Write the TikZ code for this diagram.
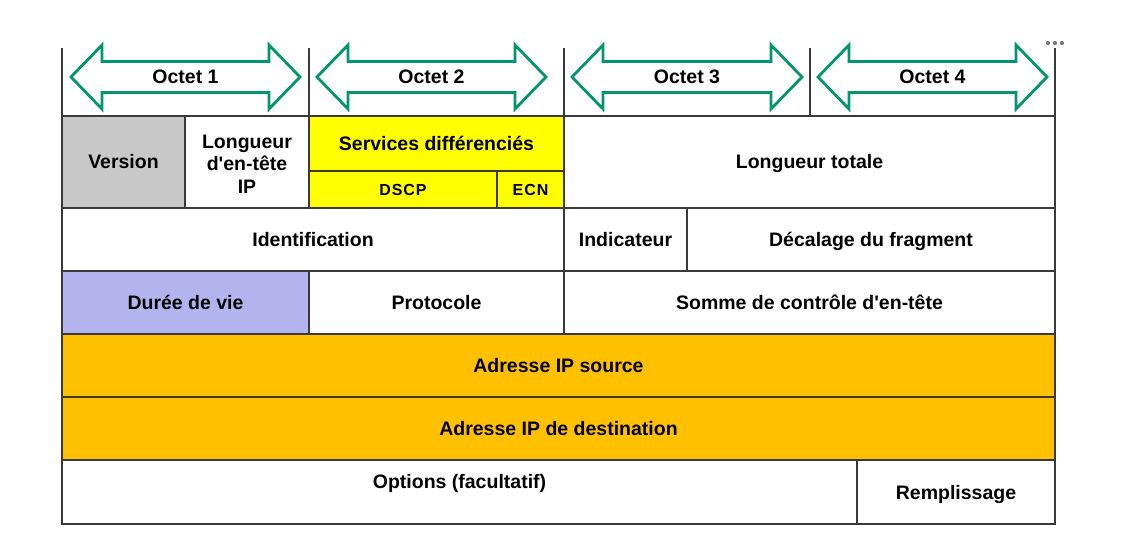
\documentclass[tikz,border=0pt]{standalone}
\usepackage{fontspec}
\setmainfont{Liberation Sans}
\definecolor{linec}{HTML}{3A3A3A}
\definecolor{arrowgreen}{RGB}{0,150,110}
\definecolor{vgray}{HTML}{C8C8C8}
\definecolor{dsyellow}{HTML}{FFFF00}
\definecolor{lavender}{HTML}{B3B3EE}
\definecolor{addrorange}{HTML}{FFC000}
\definecolor{dotgray}{HTML}{777777}
\newcommand{\octarrow}[3]{%
  \draw[arrowgreen, line width=2.8pt, line join=miter, fill=white]
    (#1,#3) -- (#1+31,#3-32) -- (#1+31,#3-15.5) -- (#2-31,#3-15.5) -- (#2-31,#3-32)
    -- (#2,#3) -- (#2-31,#3+32) -- (#2-31,#3+15.5) -- (#1+31,#3+15.5) -- (#1+31,#3+32) -- cycle;}
\begin{document}
\begin{tikzpicture}[x=1pt,y=-1pt,
  cell/.style={draw=linec, line width=1.4pt, inner sep=0pt, align=center,
    font=\bfseries\fontsize{19.5}{22.5}\selectfont},
  one/.style={text height=17pt, text depth=3pt},
  small/.style={font=\bfseries\fontsize{16}{18}\selectfont\addfontfeature{LetterSpace=6},
    text height=15pt, text depth=3pt},
  lbl/.style={inner sep=0pt, font=\bfseries\fontsize{19.5}{22.5}\selectfont,
    text height=17pt, text depth=3pt},
  mlbl/.style={inner sep=0pt, align=center, font=\bfseries\fontsize{19.5}{22.5}\selectfont},
  tick/.style={draw=linec, line width=1.4pt}]
\useasboundingbox[fill=white] (0,0) rectangle (1133,545);

% top octet separators
\draw[tick] (62,48) -- (62,116);
\draw[tick] (309,48) -- (309,116);
\draw[tick] (564,48) -- (564,116);
\draw[tick] (810,48) -- (810,116);
\draw[tick] (1055,48) -- (1055,116);
\foreach \dx in {1048,1055,1062} \fill[dotgray] (\dx,43) circle (2.1pt);

% octet arrows
\octarrow{71}{300}{77}
\node[lbl] (o1) at (185.5,77) {Octet 1};
\octarrow{317}{546}{77}
\node[lbl] (o2) at (431.5,77) {Octet 2};
\octarrow{572}{802}{77}
\node[lbl] (o3) at (687,77) {Octet 3};
\octarrow{818}{1047}{77}
\node[lbl] (o4) at (932.5,77) {Octet 4};

% row 1
\node[cell, one, fill=vgray, minimum width=123pt, minimum height=92pt] (version) at (123.5,162) {Version};
\node[cell, minimum width=124pt, minimum height=92pt] (ihl) at (247,162) {};
\node[mlbl] (ihltxt) at (247,164) {Longueur\\d\textquotesingle en-tête\\IP};
\node[cell, one, fill=dsyellow, minimum width=255pt, minimum height=55pt] (ds) at (436.5,143.5) {Services différenciés};
\node[cell, small, fill=dsyellow, minimum width=188pt, minimum height=37pt] (dscp) at (403,189.5) {DSCP};
\node[cell, small, fill=dsyellow, minimum width=67pt, minimum height=37pt] (ecn) at (530.5,189.5) {ECN};
\node[cell, one, minimum width=491pt, minimum height=92pt] (tot) at (809.5,162) {Longueur totale};

% row 2
\node[cell, one, minimum width=502pt, minimum height=63pt] (ident) at (313,239.5) {Identification};
\node[cell, one, minimum width=123pt, minimum height=63pt] (flags) at (625.5,239.5) {Indicateur};
\node[cell, one, minimum width=368pt, minimum height=63pt] (frag) at (871,239.5) {Décalage du fragment};

% row 3
\node[cell, one, fill=lavender, minimum width=247pt, minimum height=63pt] (ttl) at (185.5,302.5) {Durée de vie};
\node[cell, one, minimum width=255pt, minimum height=63pt] (proto) at (436.5,302.5) {Protocole};
\node[cell, one, minimum width=491pt, minimum height=63pt] (csum) at (809.5,302.5) {Somme de contrôle d\textquotesingle en-tête};

% rows 4-5
\node[cell, one, fill=addrorange, minimum width=993pt, minimum height=63pt] (src) at (558.5,365.5) {Adresse IP source};
\node[cell, one, fill=addrorange, minimum width=993pt, minimum height=63pt] (dst) at (558.5,428.5) {Adresse IP de destination};

% row 6
\node[cell, minimum width=795pt, minimum height=64pt] (opt) at (459.5,492) {};
\node[lbl] (opttxt) at (459.5,481) {Options (facultatif)};
\node[cell, one, minimum width=198pt, minimum height=64pt] (pad) at (956,492) {Remplissage};
\end{tikzpicture}
\end{document}
